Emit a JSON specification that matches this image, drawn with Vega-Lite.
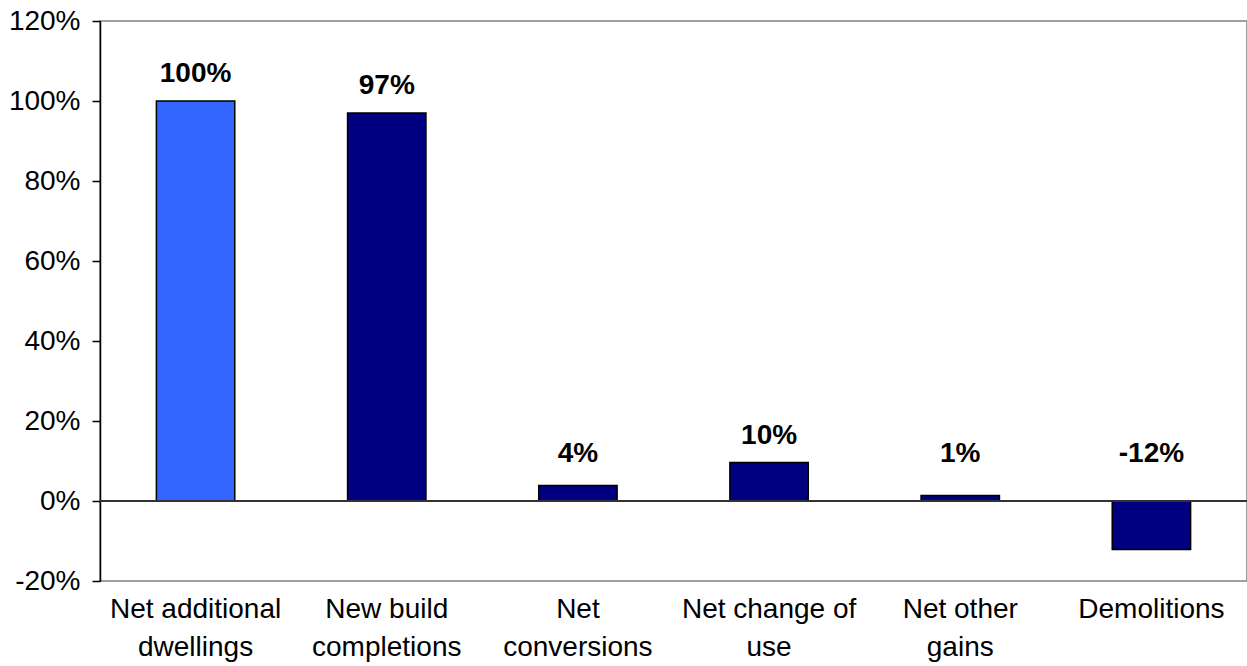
{
  "$schema": "https://vega.github.io/schema/vega-lite/v6.json",
  "width": 1147,
  "height": 560,
  "autosize": {"type": "none"},
  "padding": {"left": 100, "top": 21, "right": 0, "bottom": 85},
  "background": "white",
  "config": {
    "font": "Liberation Sans",
    "view": {"stroke": "#808080", "strokeWidth": 1.5},
    "locale": {"number": {"decimal": ".", "thousands": ",", "grouping": [3], "currency": ["", ""], "minus": "-"}}
  },
  "data": {
    "values": [
      {"cat": "Net additional dwellings", "v": 1.0},
      {"cat": "New build completions", "v": 0.97},
      {"cat": "Net conversions", "v": 0.039},
      {"cat": "Net change of use", "v": 0.096},
      {"cat": "Net other gains", "v": 0.014},
      {"cat": "Demolitions", "v": -0.121}
    ]
  },
  "encoding": {
    "x": {
      "field": "cat",
      "type": "nominal",
      "sort": null,
      "scale": {"paddingInner": 0.59, "paddingOuter": 0.295},
      "axis": {
        "title": null,
        "domain": false,
        "ticks": false,
        "labelAngle": 0,
        "labelFontSize": 28,
        "labelColor": "black",
        "labelPadding": 14,
        "labelLineHeight": 38,
        "labelBaseline": "top",
        "labelExpr": "datum.value == 'Net additional dwellings' ? ['Net additional', 'dwellings'] : datum.value == 'New build completions' ? ['New build', 'completions'] : datum.value == 'Net conversions' ? ['Net', 'conversions'] : datum.value == 'Net change of use' ? ['Net change of', 'use'] : datum.value == 'Net other gains' ? ['Net other', 'gains'] : datum.value"
      }
    }
  },
  "layer": [
    {
      "mark": {"type": "bar", "stroke": "black", "strokeWidth": 1.5},
      "encoding": {
        "y": {
          "field": "v",
          "type": "quantitative",
          "scale": {"domain": [-0.2, 1.2], "nice": false, "zero": false},
          "axis": {
            "title": null,
            "values": [-0.2, 0, 0.2, 0.4, 0.6, 0.8, 1.0, 1.2],
            "format": ".0%",
            "labelExpr": "replace(datum.label, '\u2212', '-')",
            "grid": false,
            "domainColor": "black",
            "domainWidth": 1.5,
            "tickColor": "black",
            "tickWidth": 1.5,
            "tickSize": 8,
            "labelFontSize": 28,
            "labelColor": "black",
            "labelPadding": 12
          }
        },
        "color": {
          "field": "cat",
          "type": "nominal",
          "sort": null,
          "scale": {
            "domain": ["Net additional dwellings", "New build completions", "Net conversions", "Net change of use", "Net other gains", "Demolitions"],
            "range": ["#3366FF", "#000080", "#000080", "#000080", "#000080", "#000080"]
          },
          "legend": null
        }
      }
    },
    {
      "mark": {"type": "rule", "color": "#333333", "strokeWidth": 1.5},
      "encoding": {
        "y": {"datum": 0, "type": "quantitative"},
        "x": {"value": 0},
        "x2": {"value": 1147}
      }
    },
    {
      "transform": [
        {"calculate": "max(datum.v, 0.05)", "as": "ly"},
        {"calculate": "replace(format(datum.v, '.0%'), '\u2212', '-')", "as": "lbl"}
      ],
      "mark": {"type": "text", "fontSize": 28, "fontWeight": "bold", "color": "black", "baseline": "middle", "dy": -27},
      "encoding": {
        "y": {"field": "ly", "type": "quantitative"},
        "text": {"field": "lbl", "type": "nominal"}
      }
    }
  ]
}
